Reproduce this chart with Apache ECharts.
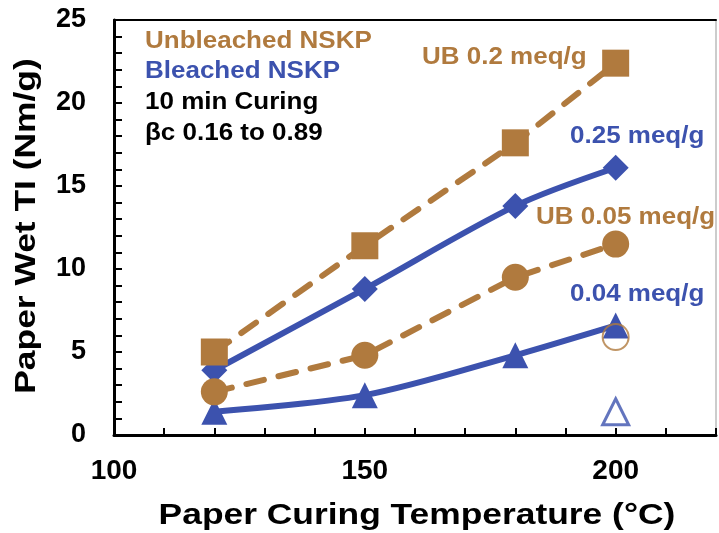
<!DOCTYPE html>
<html>
<head>
<meta charset="utf-8">
<script src="https://cdn.jsdelivr.net/npm/echarts@6/dist/echarts.min.js"></script>
<style>
  html, body { margin: 0; padding: 0; background: #fff; }
  #chart { width: 719px; height: 533px; }
</style>
</head>
<body>
<div id="chart"></div>
<script>
// Curing temperatures (°C)
const temps = [120, 150, 180, 200];

// Paper wet tensile index (Nm/g)
const ub020 = [5.0, 11.4, 17.6, 22.4];   // unbleached NSKP, 0.2 meq/g
const ub005 = [2.6, 4.8, 9.5, 11.5];     // unbleached NSKP, 0.05 meq/g
const b025 = [3.9, 8.8, 13.8, 16.1];     // bleached NSKP, 0.25 meq/g
const b004 = [1.4, 2.4, 4.8, 6.6];       // bleached NSKP, 0.04 meq/g

// Single reference points at 200 °C (open markers)
const ubOpenPoint = [[200, 5.9]];
const bOpenPoint = [[200, 1.4]];

const xTicks = [100, 150, 200];
const yTicks = [0, 5, 10, 15, 20, 25];

const BROWN = '#B07A3E';
const BLUE = '#3C52AE';
const FONT = '"Liberation Sans", Arial, sans-serif';

const pairs = (xs, ys) => xs.map((x, i) => [x, ys[i]]);

// Bold, slightly widened text block used for titles and annotations
function label(text, x, y, size, color, opts) {
  const o = opts || {};
  return {
    type: 'text', x: x, y: y,
    scaleX: o.stretch || 1.13,
    rotation: o.rotate || 0,
    z: 10,
    style: {
      text: text, fill: color,
      font: 'bold ' + size + 'px ' + FONT,
      textAlign: o.align || 'left', textVerticalAlign: 'middle'
    }
  };
}

const chart = echarts.init(document.getElementById('chart'), null, { renderer: 'canvas' });

const dashed = { type: [18, 15], width: 6, cap: 'round', color: BROWN };
const solid = { type: 'solid', width: 6, color: BLUE };

chart.setOption({
  animation: false,
  backgroundColor: '#fff',
  grid: {
    left: 114, right: 2, top: 20, bottom: 98,
    show: true, borderColor: '#999', borderWidth: 1
  },
  xAxis: [{
    type: 'value', min: 100, max: 220, interval: 10,
    axisLine: { show: true, lineStyle: { color: '#000', width: 3 } },
    axisTick: { show: true, inside: true, length: 7, lineStyle: { color: '#000', width: 2 } },
    axisLabel: {
      margin: 22, fontFamily: FONT, fontWeight: 'bold', fontSize: 28, color: '#000',
      formatter: v => xTicks.includes(v) ? String(v) : ''
    },
    splitLine: { show: false }
  }, {
    type: 'value', min: 100, max: 220, position: 'top',
    axisLine: { show: true, lineStyle: { color: '#000', width: 2 } },
    axisTick: { show: false }, axisLabel: { show: false }, splitLine: { show: false }
  }],
  yAxis: {
    type: 'value', min: 0, max: 25, interval: 1,
    axisLine: { show: true, lineStyle: { color: '#000', width: 3 } },
    axisTick: { show: true, inside: true, length: 8, lineStyle: { color: '#000', width: 2 } },
    axisLabel: {
      margin: 28, fontFamily: FONT, fontWeight: 'bold', fontSize: 27, color: '#000',
      formatter: v => yTicks.includes(v) ? String(v) : ''
    },
    splitLine: { show: false }
  },
  series: [
    {
      name: '0.25 meq/g', type: 'line', data: pairs(temps, b025),
      smooth: 0.3, symbol: 'diamond', symbolSize: 26,
      lineStyle: solid, itemStyle: { color: BLUE }, z: 2
    },
    {
      name: '0.04 meq/g', type: 'line', data: pairs(temps, b004),
      smooth: 0.3, symbol: 'triangle', symbolSize: 26,
      lineStyle: solid, itemStyle: { color: BLUE }, z: 2
    },
    {
      name: 'UB 0.2 meq/g', type: 'line', data: pairs(temps, ub020),
      symbol: 'rect', symbolSize: 27,
      lineStyle: dashed, itemStyle: { color: BROWN }, z: 3
    },
    {
      name: 'UB 0.05 meq/g', type: 'line', data: pairs(temps, ub005),
      symbol: 'circle', symbolSize: 27,
      lineStyle: dashed, itemStyle: { color: BROWN }, z: 3
    },
    {
      name: 'UB open', type: 'scatter', data: ubOpenPoint,
      symbol: 'circle', symbolSize: 26,
      itemStyle: { color: 'rgba(0,0,0,0)', borderColor: BROWN, borderWidth: 2 }, z: 4
    },
    {
      name: 'B open', type: 'scatter', data: bOpenPoint,
      symbol: 'triangle', symbolSize: 26,
      itemStyle: { color: '#fff', borderColor: BLUE, borderWidth: 3 }, z: 4
    }
  ],
  graphic: [
    // axis titles
    label('Paper Curing Temperature (°C)', 417, 516, 29, '#000', { align: 'center', stretch: 1.22 }),
    label('Paper Wet TI (Nm/g)', 27, 226, 29, '#000', { align: 'center', rotate: Math.PI / 2, stretch: 1.22 }),
    // notes
    label('Unbleached NSKP', 145, 42, 23, BROWN),
    label('Bleached NSKP', 145, 72, 23, BLUE),
    label('10 min Curing', 145, 103, 23, '#000'),
    label('βc 0.16 to 0.89', 145, 134, 23, '#000'),
    // series labels
    label('UB 0.2 meq/g', 422, 58, 23, BROWN),
    label('0.25 meq/g', 570, 137, 23, BLUE),
    label('UB 0.05 meq/g', 536, 218, 23, BROWN),
    label('0.04 meq/g', 570, 295, 23, BLUE)
  ]
});
</script>
</body>
</html>
